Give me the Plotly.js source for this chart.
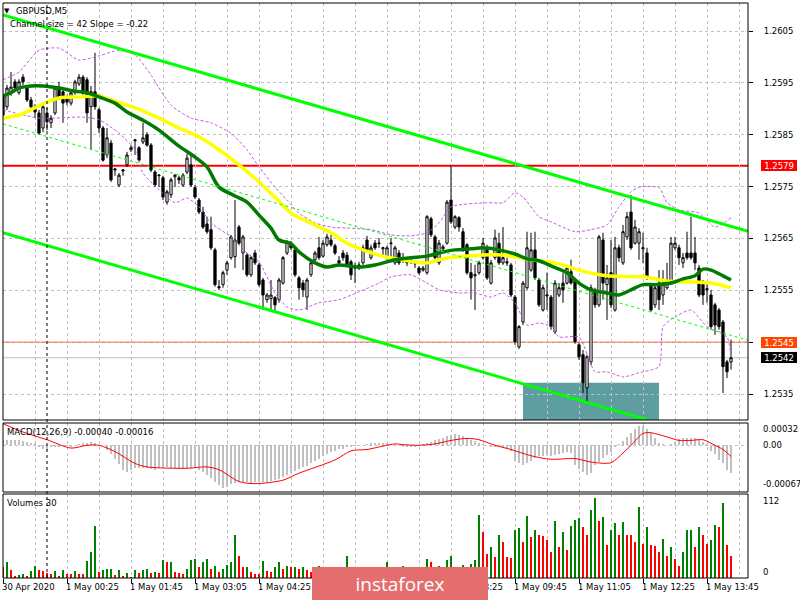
<!DOCTYPE html>
<html><head><meta charset="utf-8">
<script src="https://cdn.plot.ly/plotly-3.0.1.min.js"></script>
<style>html,body{margin:0;padding:0;background:#fff}#chart{width:800px;height:600px}</style>
</head><body><div id="chart"></div>
<script>
// ---------- price data (GBPUSD, M5), one value per bar ----------
const open = [
1.25923,1.25904,1.25931,1.25952,1.25931,1.25961,1.25940,1.25917,1.25904,1.25892,
1.25863,1.25892,1.25873,1.25892,1.25942,1.25933,1.25923,1.25911,1.25931,1.25948,
1.25961,1.25956,1.25904,1.25933,1.25898,1.25863,1.25811,1.25834,1.25782,1.25753,
1.25780,1.25792,1.25821,1.25838,1.25825,1.25836,1.25850,1.25830,1.25778,1.25771,
1.25767,1.25720,1.25734,1.25769,1.25767,1.25753,1.25778,1.25792,1.25748,1.25724,
1.25701,1.25678,1.25667,1.25628,1.25557,1.25561,1.25589,1.25613,1.25615,1.25672,
1.25622,1.25618,1.25580,1.25622,1.25599,1.25570,1.25532,1.25534,1.25536,1.25532,
1.25564,1.25622,1.25641,1.25628,1.25574,1.25564,1.25537,1.25580,1.25609,1.25632,
1.25616,1.25638,1.25647,1.25636,1.25607,1.25622,1.25618,1.25605,1.25593,1.25595,
1.25603,1.25647,1.25613,1.25641,1.25640,1.25630,1.25613,1.25640,1.25603,1.25622,
1.25611,1.25603,1.25613,1.25601,1.25593,1.25589,1.25584,1.25688,1.25653,1.25603,
1.25630,1.25641,1.25724,1.25672,1.25690,1.25663,1.25638,1.25584,1.25578,1.25584,
1.25613,1.25632,1.25564,1.25613,1.25641,1.25603,1.25605,1.25599,1.25537,1.25441,
1.25489,1.25555,1.25589,1.25628,1.25570,1.25512,1.25539,1.25537,1.25470,1.25541,
1.25564,1.25564,1.25586,1.25570,1.25445,1.25426,1.25362,1.25412,1.25551,1.25522,
1.25647,1.25561,1.25584,1.25512,1.25632,1.25603,1.25653,1.25701,1.25641,1.25641,
1.25630,1.25622,1.25561,1.25522,1.25564,1.25541,1.25555,1.25564,1.25632,1.25632,
1.25603,1.25622,1.25622,1.25622,1.25593,1.25564,1.25551,1.25541,1.25522,1.25512,
1.25489,1.25412,1.25412];
const high = [
1.25929,1.25946,1.25971,1.25957,1.25957,1.25967,1.25946,1.25923,1.25909,1.25898,
1.25913,1.25902,1.25888,1.25944,1.25952,1.25936,1.25927,1.25936,1.25956,1.25967,
1.25965,1.25961,1.25944,1.26008,1.25902,1.25867,1.25863,1.25840,1.25786,1.25776,
1.25784,1.25817,1.25830,1.25842,1.25828,1.25873,1.25855,1.25834,1.25782,1.25774,
1.25771,1.25744,1.25767,1.25774,1.25771,1.25776,1.25813,1.25815,1.25753,1.25728,
1.25711,1.25692,1.25692,1.25632,1.25570,1.25588,1.25607,1.25657,1.25724,1.25676,
1.25657,1.25622,1.25616,1.25628,1.25603,1.25574,1.25545,1.25570,1.25539,1.25574,
1.25616,1.25647,1.25645,1.25632,1.25578,1.25570,1.25574,1.25607,1.25626,1.25653,
1.25647,1.25659,1.25657,1.25640,1.25616,1.25628,1.25624,1.25609,1.25603,1.25605,
1.25638,1.25655,1.25638,1.25647,1.25651,1.25634,1.25636,1.25651,1.25636,1.25628,
1.25622,1.25609,1.25616,1.25605,1.25597,1.25597,1.25695,1.25692,1.25657,1.25647,
1.25638,1.25724,1.25792,1.25695,1.25693,1.25670,1.25641,1.25603,1.25599,1.25607,
1.25651,1.25638,1.25609,1.25667,1.25661,1.25672,1.25613,1.25603,1.25541,1.25483,
1.25568,1.25663,1.25661,1.25663,1.25574,1.25561,1.25584,1.25541,1.25570,1.25564,
1.25584,1.25599,1.25609,1.25574,1.25449,1.25435,1.25426,1.25561,1.25555,1.25657,
1.25661,1.25599,1.25647,1.25653,1.25638,1.25676,1.25701,1.25734,1.25686,1.25670,
1.25661,1.25632,1.25564,1.25561,1.25589,1.25589,1.25603,1.25653,1.25653,1.25638,
1.25622,1.25663,1.25692,1.25653,1.25599,1.25570,1.25564,1.25551,1.25526,1.25516,
1.25493,1.25416,1.25455];
const low = [
1.25882,1.25898,1.25925,1.25936,1.25927,1.25946,1.25913,1.25898,1.25882,1.25850,
1.25855,1.25859,1.25863,1.25888,1.25917,1.25873,1.25907,1.25906,1.25927,1.25944,
1.25927,1.25873,1.25821,1.25898,1.25853,1.25798,1.25805,1.25759,1.25771,1.25749,
1.25771,1.25788,1.25817,1.25811,1.25798,1.25832,1.25827,1.25778,1.25749,1.25749,
1.25724,1.25715,1.25728,1.25749,1.25755,1.25749,1.25774,1.25749,1.25726,1.25697,
1.25668,1.25659,1.25628,1.25557,1.25551,1.25555,1.25580,1.25609,1.25593,1.25638,
1.25589,1.25576,1.25576,1.25599,1.25557,1.25512,1.25526,1.25512,1.25512,1.25526,
1.25561,1.25618,1.25628,1.25576,1.25532,1.25537,1.25512,1.25576,1.25605,1.25609,
1.25613,1.25634,1.25634,1.25618,1.25597,1.25607,1.25595,1.25570,1.25564,1.25589,
1.25599,1.25624,1.25609,1.25628,1.25632,1.25618,1.25609,1.25615,1.25599,1.25599,
1.25603,1.25597,1.25601,1.25593,1.25580,1.25586,1.25580,1.25653,1.25609,1.25599,
1.25624,1.25638,1.25678,1.25668,1.25663,1.25624,1.25580,1.25532,1.25512,1.25580,
1.25609,1.25570,1.25561,1.25609,1.25599,1.25599,1.25597,1.25537,1.25445,1.25437,
1.25483,1.25551,1.25586,1.25570,1.25518,1.25509,1.25512,1.25474,1.25466,1.25537,
1.25526,1.25561,1.25561,1.25447,1.25416,1.25352,1.25333,1.25406,1.25516,1.25518,
1.25532,1.25493,1.25516,1.25509,1.25605,1.25599,1.25647,1.25628,1.25638,1.25609,
1.25603,1.25570,1.25509,1.25516,1.25512,1.25522,1.25551,1.25561,1.25628,1.25599,
1.25593,1.25609,1.25609,1.25589,1.25537,1.25522,1.25526,1.25474,1.25464,1.25474,
1.25352,1.25381,1.25397];
const close = [
1.25888,1.25940,1.25942,1.25940,1.25952,1.25952,1.25917,1.25904,1.25894,1.25853,
1.25904,1.25875,1.25882,1.25940,1.25923,1.25911,1.25913,1.25931,1.25952,1.25961,
1.25931,1.25892,1.25933,1.25904,1.25863,1.25801,1.25844,1.25763,1.25784,1.25772,
1.25782,1.25811,1.25825,1.25840,1.25801,1.25844,1.25830,1.25782,1.25753,1.25772,
1.25730,1.25740,1.25763,1.25772,1.25763,1.25772,1.25805,1.25753,1.25730,1.25701,
1.25672,1.25663,1.25632,1.25561,1.25555,1.25584,1.25603,1.25653,1.25647,1.25641,
1.25653,1.25580,1.25613,1.25603,1.25561,1.25541,1.25541,1.25541,1.25522,1.25570,
1.25613,1.25643,1.25632,1.25580,1.25555,1.25551,1.25570,1.25603,1.25622,1.25613,
1.25641,1.25653,1.25638,1.25622,1.25603,1.25613,1.25599,1.25580,1.25597,1.25599,
1.25632,1.25628,1.25632,1.25632,1.25641,1.25632,1.25632,1.25641,1.25632,1.25603,
1.25613,1.25605,1.25611,1.25603,1.25584,1.25593,1.25692,1.25657,1.25613,1.25641,
1.25634,1.25720,1.25682,1.25692,1.25672,1.25628,1.25584,1.25574,1.25580,1.25603,
1.25641,1.25574,1.25603,1.25651,1.25603,1.25613,1.25603,1.25541,1.25451,1.25480,
1.25564,1.25632,1.25628,1.25574,1.25522,1.25555,1.25541,1.25480,1.25564,1.25555,
1.25551,1.25593,1.25564,1.25451,1.25422,1.25372,1.25422,1.25555,1.25522,1.25653,
1.25564,1.25574,1.25522,1.25632,1.25613,1.25663,1.25692,1.25632,1.25672,1.25663,
1.25632,1.25574,1.25512,1.25555,1.25532,1.25561,1.25564,1.25641,1.25641,1.25613,
1.25613,1.25613,1.25613,1.25603,1.25541,1.25541,1.25553,1.25480,1.25483,1.25480,
1.25403,1.25393,1.25420];

// ---------- volumes ----------
const volume = [
16,22,11,3,4,6,3,10,17,11,10,7,6,10,3,11,6,5,10,6,
5,24,37,73,9,11,12,13,4,11,3,7,1,11,7,11,12,7,9,7,
25,22,23,8,7,6,12,25,27,15,22,27,13,17,8,13,18,22,60,31,
15,16,8,6,5,24,10,9,15,22,13,17,15,16,12,15,11,9,12,17,
10,8,12,9,14,10,31,12,15,8,16,9,11,7,13,10,23,12,9,14,
17,8,11,6,13,9,27,23,10,17,12,25,31,15,9,18,12,19,25,88,
64,34,43,30,60,51,30,28,67,70,50,87,57,67,60,59,53,36,80,44,
64,40,73,82,84,71,61,95,112,80,85,47,67,77,61,78,61,60,50,100,
48,71,47,45,37,55,31,44,27,17,37,67,68,44,71,60,48,54,74,72,
106,47,31];

// ---------- MACD(12,26,9) ----------
const macdHist = [
0.00008,0.00008,0.00007,0.00007,0.00007,0.00006,0.00005,0.00004,0.00003,
-0.00003,-0.00005,-0.00007,
-0.00003,-0.00002,-0.00002,-0.00001,-0.00001,-0.00002,0,
0.00002,0.00003,0.00004,0.00005,0.00004,
0.00001,0,
-0.00007,-0.00012,
-0.0002,-0.00027,-0.00036,-0.00038,-0.00035,-0.00033,
-0.00032,-0.00033,-0.00033,-0.00034,-0.00035,-0.00033,-0.00032,-0.00031,-0.00032,-0.00033,-0.00034,-0.00034,-0.00033,-0.00032,-0.00033,-0.00035,-0.00038,
-0.00042,-0.00047,-0.00052,-0.00057,-0.00061,-0.0006,-0.00056,
-0.00054,-0.00053,-0.00052,-0.00053,-0.00054,-0.00053,-0.00052,-0.00052,-0.00053,-0.00051,-0.0005,-0.00048,
-0.00045,-0.00043,-0.0004,-0.00037,-0.00034,-0.00031,-0.00029,-0.00026,-0.00022,-0.00019,-0.00015,-0.00012,
-0.0001,-0.00008,-0.00006,-0.00005,-0.00003,-0.00002,-0.00001,
0,0.00001,0.00002,0.00003,0.00003,0.00004,0.00004,0.00003,0.00002,0.00001,0,
-0.00002,-0.00003,-0.00003,-0.00002,
0,0.00002,0.00003,
0.00005,0.00007,0.00009,0.00011,0.00013,
0.00015,0.00016,0.00015,0.00013,
0.0001,0.00008,0.00006,0.00004,0.00002,0,-0.00002,
-0.00003,-0.00003,-0.00004,-0.00005,-0.00008,
-0.00022,-0.00026,-0.00028,-0.00026,-0.00023,
-0.00018,-0.00016,-0.00015,-0.00014,-0.00015,-0.00014,-0.00012,-0.00011,-0.0001,-0.00011,
-0.00028,-0.00034,-0.00038,-0.00042,-0.0004,
-0.00028,-0.00024,-0.00018,-0.00014,-0.00009,-0.00002,
0.00002,0.00006,0.00012,0.00018,0.00023,0.00027,0.00027,0.00024,
0.00017,0.0001,0.00004,
0.00002,0.00001,0.00002,0.00005,
0.00009,0.0001,0.00011,0.00011,0.0001,0.00008,
0.00005,0.00002,
-0.00008,-0.00012,-0.00021,-0.00026,-0.00035,-0.0004];
const signalIdx = [0,5,11,17,21,24,28,33,36,46,51,54,59,63,70,74,83,87,91,98,100,104,108,112,116,119,123,127,132,137,143,147,152,155,157,160,162,166,169,172,175,178,180,182];
const signalVal = [0.00031,0.00019,0.00008,-0.00004,0,0,-0.00009,-0.00026,-0.00031,-0.00033,-0.00031,-0.00035,-0.00052,-0.00055,-0.0005,-0.0004,-0.00021,-0.00008,-0.00006,0.00002,0.00001,0,0.00002,0.00007,0.0001,0.00008,0,-0.00006,-0.00015,-0.0002,-0.00019,-0.00024,-0.00025,-0.00011,0,0.00017,0.00018,0.00012,0.00007,0.00007,0.00008,0,-0.00006,-0.00016];

// ---------- moving averages & bands (read at bar positions) ----------
const yellowIdx = [0,4,8,11,14,20,24,27,33,39,44,49,54,59,64,69,72,77,82,86,90,94,98,106,109,116,125,132,139,144,151,160,166,173,177,182];
const yellowVal = [1.25882,1.25888,1.25902,1.25913,1.25921,1.25923,1.25925,1.25917,1.25902,1.25882,1.25863,1.25846,1.25821,1.25792,1.25759,1.25722,1.25699,1.25680,1.25661,1.25641,1.25628,1.25618,1.25611,1.25603,1.25609,1.25616,1.25618,1.25609,1.25601,1.25589,1.25578,1.25576,1.25568,1.25566,1.25564,1.25555];
const greenIdx = [0,2,4,7,10,14,18,21,24,28,31,35,39,44,48,51,54,58,61,64,67,69,72,74,78,81,84,89,93,98,102,106,110,113,117,120,124,128,131,134,137,141,144,147,151,154,157,160,163,167,170,173,175,177,180,182];
const greenVal = [1.25925,1.25931,1.25940,1.25944,1.25944,1.25940,1.25934,1.25931,1.25923,1.25911,1.25894,1.25878,1.25859,1.25828,1.25807,1.25788,1.25749,1.25732,1.25720,1.25695,1.25670,1.25647,1.25640,1.25624,1.25603,1.25595,1.25599,1.25595,1.25599,1.25609,1.25613,1.25616,1.25624,1.25628,1.25630,1.25632,1.25628,1.25620,1.25611,1.25607,1.25597,1.25584,1.25564,1.25551,1.25545,1.25541,1.25551,1.25561,1.25561,1.25564,1.25572,1.25578,1.25591,1.25589,1.25578,1.25570];
const upperBandIdx = [0,4,9,14,19,24,29,33,37,42,47,52,57,61,64,68,71,74,78,82,86,92,97,102,106,109,112,121,125,128,130,134,137,143,147,151,154,157,159,164,166,169,174,178,182];
const upperBandVal = [1.25956,1.25971,1.26013,1.26017,1.25994,1.26002,1.26013,1.26004,1.25965,1.25907,1.25882,1.25873,1.25853,1.25821,1.25788,1.25749,1.25724,1.25699,1.25680,1.25672,1.25670,1.25667,1.25657,1.25655,1.25661,1.25680,1.25711,1.25719,1.25719,1.25738,1.25730,1.25692,1.25682,1.25663,1.25667,1.25676,1.25711,1.25740,1.25749,1.25748,1.25719,1.25705,1.25699,1.25672,1.25690];
const lowerBandIdx = [0,9,20,24,29,33,35,39,43,46,49,52,57,61,64,68,71,74,79,84,89,94,97,102,106,109,114,118,122,125,128,131,134,137,139,144,148,151,155,159,164,165,168,172,176,181,182];
const lowerBandVal = [1.25898,1.25882,1.25884,1.25879,1.25853,1.25821,1.25776,1.25744,1.25719,1.25728,1.25711,1.25680,1.25653,1.25622,1.25605,1.25545,1.25518,1.25512,1.25526,1.25532,1.25547,1.25564,1.25576,1.25580,1.25564,1.25551,1.25545,1.25545,1.25537,1.25545,1.25526,1.25483,1.25487,1.25480,1.25460,1.25460,1.25393,1.25393,1.25383,1.25391,1.25403,1.25480,1.25499,1.25512,1.25480,1.25460,1.25422];

// ---------- channel, levels, zone ----------
const channelUpperStart = 1.26081;   // upper channel line at first bar
const channelSlope = -0.0000224;     // price change per bar (-0.22 pips)
const channelSize = 0.0042;          // 42 pips
const levelPrices = [1.2579, 1.2545, 1.2542];
const levelLabels = ['1.2579', '1.2545', '1.2542'];
const zoneStartIdx = 130, zoneEndIdx = 164, zoneTop = 1.25372;
const daySeparatorIdx = 11;

// ---------- axes text ----------
const timeTickIdx = [0,16,32,48,64,80,96,112,128,144,160,176];
const timeTickText = ['30 Apr 2020','1 May 00:25','1 May 01:45','1 May 03:05','1 May 04:25','1 May 05:45','1 May 07:05','1 May 08:25','1 May 09:45','1 May 11:05','1 May 12:25','1 May 13:45'];
const macdAxisVals = [0.00032, 0, -0.00067];
const macdAxisText = ['0.00032', '0.00', '-0.00067'];
const volAxisVals = [112, 0];
const volAxisText = ['112', '0'];

// ================= drawing =================
const FONT = 'DejaVu Sans, Verdana, sans-serif';
const fs = 8.5;
const idx = open.map((_, i) => i);
const xMax = 186.25;
const priceMin = 1.25300, priceMax = 1.26104;
const pxPerBar = 745 / xMax;

const chanX = [0, xMax];
const upperCh = chanX.map(x => channelUpperStart + channelSlope * x);
const lowerCh = upperCh.map(v => v - channelSize);
const midCh = upperCh.map(v => v - channelSize / 2);

const volColors = volume.map((v, i) => (i > 0 && v > volume[i - 1]) ? '#008000' : '#ff0000');

const traces = [
  {type:'scatter', mode:'lines', x: upperBandIdx, y: upperBandVal, xaxis:'x', yaxis:'y',
   line:{color:'#c35ce6', width:1, dash:'3px,2px', shape:'spline', smoothing:0.6}, hoverinfo:'skip'},
  {type:'scatter', mode:'lines', x: lowerBandIdx, y: lowerBandVal, xaxis:'x', yaxis:'y',
   line:{color:'#c35ce6', width:1, dash:'3px,2px', shape:'spline', smoothing:0.6}, hoverinfo:'skip'},
  {type:'candlestick', x: idx, open: open, high: high, low: low, close: close, xaxis:'x', yaxis:'y',
   increasing:{line:{color:'#000', width:1}, fillcolor:'#ffffff'},
   decreasing:{line:{color:'#000', width:1}, fillcolor:'#000000'},
   whiskerwidth:0, hoverinfo:'skip'},
  {type:'scatter', mode:'lines', x: yellowIdx, y: yellowVal, xaxis:'x', yaxis:'y',
   line:{color:'#ffff00', width:3.5, shape:'spline', smoothing:0.8}, hoverinfo:'skip'},
  {type:'scatter', mode:'lines', x: greenIdx, y: greenVal, xaxis:'x', yaxis:'y',
   line:{color:'#007a00', width:3.5, shape:'spline', smoothing:0.8}, hoverinfo:'skip'},
  {type:'scatter', mode:'lines', x: chanX, y: midCh, xaxis:'x', yaxis:'y',
   line:{color:'#00ff00', width:1, dash:'3px,3px'}, hoverinfo:'skip'},
  {type:'scatter', mode:'lines', x: chanX, y: upperCh, xaxis:'x', yaxis:'y',
   line:{color:'#00ff00', width:3}, hoverinfo:'skip'},
  {type:'scatter', mode:'lines', x: chanX, y: lowerCh, xaxis:'x', yaxis:'y',
   line:{color:'#00ff00', width:3}, hoverinfo:'skip'},
  {type:'bar', x: idx, y: macdHist, xaxis:'x', yaxis:'y2', width:0.5,
   marker:{color:'#c0c0c0', line:{width:0}}, hoverinfo:'skip'},
  {type:'scatter', mode:'lines', x: signalIdx, y: signalVal, xaxis:'x', yaxis:'y2',
   line:{color:'#ff0000', width:1, shape:'spline', smoothing:0.8}, hoverinfo:'skip'},
  {type:'bar', x: idx, y: volume, xaxis:'x', yaxis:'y3', width:0.68,
   marker:{color: volColors, line:{width:0}}, hoverinfo:'skip'}
];

const gridDash = '3px,3px';
const gridColor = '#c0c0c0';

const shapes = [
  {type:'rect', xref:'x', yref:'y', x0: zoneStartIdx, x1: zoneEndIdx, y0: priceMin - 0.001, y1: zoneTop,
   fillcolor:'#5f9ea0', line:{width:0}, layer:'below'},
  {type:'line', xref:'x domain', yref:'y', x0:0, x1:1, y0: levelPrices[0], y1: levelPrices[0],
   line:{color:'#ff0000', width:2}, layer:'below'},
  {type:'line', xref:'x domain', yref:'y', x0:0, x1:1, y0: levelPrices[1], y1: levelPrices[1],
   line:{color:'#ff4500', width:1}, layer:'below'},
  {type:'line', xref:'x domain', yref:'y', x0:0, x1:1, y0: levelPrices[2], y1: levelPrices[2],
   line:{color:'#c0c0c0', width:1}, layer:'below'},
  {type:'line', xref:'x', yref:'paper', x0: daySeparatorIdx, x1: daySeparatorIdx, y0:0, y1:1,
   line:{color:'#000', width:1, dash:'3px,3px'}, layer:'above'},
  {type:'rect', xref:'paper', yref:'y domain', x0:0, x1:1, y0:0, y1:1, line:{color:'#000', width:1}, layer:'above'},
  {type:'rect', xref:'paper', yref:'y2 domain', x0:0, x1:1, y0:0, y1:1, line:{color:'#000', width:1}, layer:'above'},
  {type:'rect', xref:'paper', yref:'y3 domain', x0:0, x1:1, y0:0, y1:1, line:{color:'#000', width:1}, layer:'above'}
];

const baseAnn = {showarrow:false, borderpad:0, borderwidth:0, font:{family:FONT, size:fs, color:'#000'}};
const annotations = [];
// watermark logo box (pixels relative to plot area)
const logoLeft = 309, logoRight = 485;
timeTickIdx.forEach((t, k) => {
  const startPx = t * pxPerBar;
  const endPx = startPx + timeTickText[k].length * 4.8;
  if (startPx >= logoLeft && endPx <= logoRight) return;   // fully hidden under the logo
  annotations.push(Object.assign({}, baseAnn, {
    xref:'x', x:t, yref:'paper', y:0, xanchor:'left', yanchor:'top', xshift:-1, yshift:-4, text: timeTickText[k]}));
});
annotations.push(Object.assign({}, baseAnn, {xref:'paper', x:0, yref:'paper', y:1, xanchor:'left', yanchor:'middle',
  xshift:1, yshift:-7.5, text:'▼', font:{family:FONT, size:7, color:'#000'}}));
annotations.push(Object.assign({}, baseAnn, {xref:'paper', x:0, yref:'paper', y:1, xanchor:'left', yanchor:'middle',
  xshift:13, yshift:-7.7, text:'GBPUSD,M5'}));
annotations.push(Object.assign({}, baseAnn, {xref:'paper', x:0, yref:'paper', y:1, xanchor:'left', yanchor:'middle',
  xshift:7, yshift:-21, text:'Channel size = 42 Slope = -0.22'}));
annotations.push(Object.assign({}, baseAnn, {xref:'paper', x:0, yref:'y2 domain', y:1, xanchor:'left', yanchor:'middle',
  xshift:4, yshift:-8.7, text:'MACD(12,26,9) -0.00040 -0.00016'}));
annotations.push(Object.assign({}, baseAnn, {xref:'paper', x:0, yref:'y3 domain', y:1, xanchor:'left', yanchor:'middle',
  xshift:4, yshift:-9.3, text:'Volumes 30'}));
const macdShift = [-6.3, 0, 8];
macdAxisVals.forEach((v, k) => annotations.push(Object.assign({}, baseAnn, {
  xref:'paper', x:1, yref:'y2', y:v, xanchor:'left', yanchor:'middle', xshift:14.5, yshift: macdShift[k], text: macdAxisText[k]})));
const volShift = [-3, 6];
volAxisVals.forEach((v, k) => annotations.push(Object.assign({}, baseAnn, {
  xref:'paper', x:1, yref:'y3', y:v, xanchor:'left', yanchor:'middle', xshift:14.5, yshift: volShift[k], text: volAxisText[k]})));
const tagColors = ['#ff0000', '#ff4500', '#000000'];
levelPrices.forEach((p, k) => annotations.push(Object.assign({}, baseAnn, {
  xref:'paper', x:1, yref:'y', y:p, xanchor:'left', yanchor:'middle', xshift:13, width:36, height:11, align:'center',
  bgcolor: tagColors[k], text: levelLabels[k], font:{family:FONT, size:fs, color:'#ffffff'}})));
// watermark logo
annotations.push(Object.assign({}, baseAnn, {xref:'paper', x:(400-3)/745, yref:'paper', y:(578-583.5)/575,
  xanchor:'center', yanchor:'middle', width:176, height:33, bgcolor:'#e46e6e', text:'instaforex',
  font:{family:'Open Sans, sans-serif', size:19, color:'#ffffff'}}));

const layout = {
  width:800, height:600, margin:{l:3, r:52, t:3, b:22},
  paper_bgcolor:'#ffffff', plot_bgcolor:'#ffffff', showlegend:false, bargap:0,
  boxgap:0.2,
  font:{family:FONT, size:fs, color:'#000'},
  xaxis:{domain:[0,1], range:[0, xMax], anchor:'y3', tickmode:'linear', tick0:0, dtick:16,
    ticks:'outside', ticklen:4, tickcolor:'#000', showticklabels:false,
    showgrid:true, gridcolor:gridColor, griddash:gridDash, gridwidth:1, zeroline:false, showline:false,
    minor:{tickmode:'linear', tick0:8, dtick:8, showgrid:true, gridcolor:gridColor, griddash:gridDash, gridwidth:1, ticks:''},
    rangeslider:{visible:false}, fixedrange:true},
  yaxis:{domain:[(578-420)/575, 1], range:[priceMin, priceMax], anchor:'x', side:'right',
    tickmode:'linear', tick0:1.2535, dtick:0.001, tickformat:'.4f', ticks:'outside', ticklen:4, tickcolor:'#000',
    ticklabelstandoff:9, tickfont:{family:FONT, size:fs, color:'#000'},
    showgrid:true, gridcolor:gridColor, griddash:gridDash, zeroline:false, showline:false, fixedrange:true},
  yaxis2:{domain:[(578-492)/575, (578-423)/575], range:[-0.00067, 0.00032], anchor:'x', side:'right',
    tickmode:'array', tickvals:[0], showticklabels:false, ticks:'',
    showgrid:true, gridcolor:gridColor, griddash:gridDash, zeroline:false, showline:false, fixedrange:true},
  yaxis3:{domain:[0, (578-494)/575], range:[0, 118], anchor:'x', side:'right',
    showticklabels:false, ticks:'', showgrid:false, zeroline:false, showline:false, fixedrange:true},
  shapes: shapes,
  annotations: annotations
};

Plotly.newPlot('chart', traces, layout, {staticPlot:true, displayModeBar:false});
</script></body></html>
